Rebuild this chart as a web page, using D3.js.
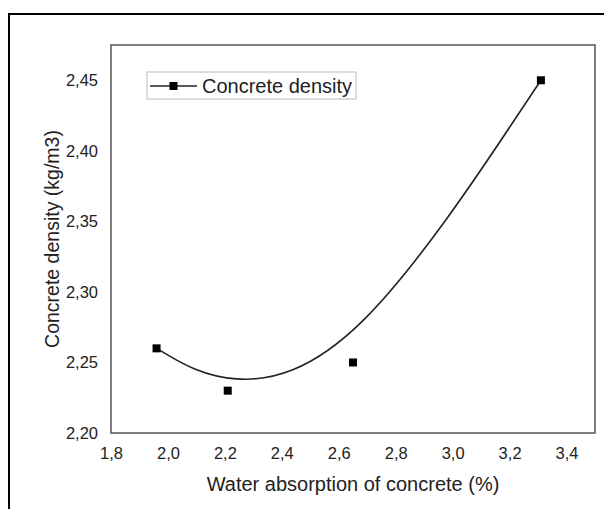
<!DOCTYPE html>
<html>
<head>
<meta charset="utf-8">
<script src="https://cdn.jsdelivr.net/npm/d3@7"></script>
<style>
  body { margin: 0; background: #fff; }
  svg { display: block; font-family: "Liberation Sans", Arial, sans-serif; }
</style>
</head>
<body>
<div id="chart"></div>
<script>
// data
var absorption = [1.96, 2.21, 2.65, 3.31];
var density = [2.26, 2.23, 2.25, 2.45];
var xTicks = [1.8, 2.0, 2.2, 2.4, 2.6, 2.8, 3.0, 3.2, 3.4];
var yTicks = [2.20, 2.25, 2.30, 2.35, 2.40, 2.45];
var seriesName = "Concrete density";

var width = 604,
    height = 509;

var margin = {left: 111, top: 45, right: 9, bottom: 76};

var svg = d3.select("#chart").append("svg")
    .attr("width", width)
    .attr("height", height);

// outer frame, cut by the image edge on right and bottom
svg.append("rect")
    .attr("x", 9).attr("y", 14)
    .attr("width", 700).attr("height", 600)
    .attr("fill", "none")
    .attr("stroke", "#000")
    .attr("stroke-width", 2);

var x = d3.scaleLinear()
    .domain([1.8, 3.5])
    .range([margin.left, width - margin.right]);

var y = d3.scaleLinear()
    .domain([2.20, 2.475])
    .range([height - margin.bottom, margin.top]);

var fmt = function(n, dec) { return d3.format("." + dec + "f")(n).replace(".", ","); };

// axes without tick marks
var xAxis = d3.axisBottom(x).tickValues(xTicks).tickSize(0).tickPadding(14)
    .tickFormat(function(d) { return fmt(d, 1); });
var yAxis = d3.axisLeft(y).tickValues(yTicks).tickSize(0).tickPadding(13)
    .tickFormat(function(d) { return fmt(d, 2); });

var gx = svg.append("g")
    .attr("transform", "translate(0," + (height - margin.bottom) + ")")
    .call(xAxis);
var gy = svg.append("g")
    .attr("transform", "translate(" + margin.left + ",0)")
    .call(yAxis);

[gx, gy].forEach(function(g) {
    g.select(".domain").remove();
    g.selectAll("text")
        .attr("fill", "#222")
        .style("font-size", "16.5px")
        .style("font-family", "'Liberation Sans', Arial, sans-serif");
});

// plot box
svg.append("rect")
    .attr("x", margin.left).attr("y", margin.top)
    .attr("width", width - margin.right - margin.left)
    .attr("height", height - margin.bottom - margin.top)
    .attr("fill", "none")
    .attr("stroke", "#555")
    .attr("stroke-width", 1.5);

// b-spline line through the points
var line = d3.line()
    .x(function(d, i) { return x(absorption[i]); })
    .y(function(d) { return y(d); })
    .curve(d3.curveBasis);

svg.append("path")
    .datum(density)
    .attr("d", line)
    .attr("fill", "none")
    .attr("stroke", "#222")
    .attr("stroke-width", 1.6);

var ms = 8;
svg.selectAll("rect.pt")
    .data(density)
    .enter().append("rect")
    .attr("class", "pt")
    .attr("x", function(d, i) { return x(absorption[i]) - ms / 2; })
    .attr("y", function(d) { return y(d) - ms / 2; })
    .attr("width", ms).attr("height", ms)
    .attr("fill", "#000");

// axis titles
svg.append("text")
    .attr("x", (margin.left + width - margin.right) / 2)
    .attr("y", 491)
    .attr("text-anchor", "middle")
    .attr("fill", "#222")
    .style("font-size", "20px")
    .text("Water absorption of concrete (%)");

svg.append("text")
    .attr("transform", "translate(59," + (margin.top + height - margin.bottom) / 2 + ") rotate(-90)")
    .attr("text-anchor", "middle")
    .attr("fill", "#222")
    .style("font-size", "19.5px")
    .text("Concrete density (kg/m3)");

// legend
var lg = svg.append("g").attr("transform", "translate(147,72)");
lg.append("rect")
    .attr("width", 209).attr("height", 27)
    .attr("fill", "#fff")
    .attr("stroke", "#bbb")
    .attr("stroke-width", 1);
lg.append("line")
    .attr("x1", 3).attr("x2", 50)
    .attr("y1", 14).attr("y2", 14)
    .attr("stroke", "#222")
    .attr("stroke-width", 1.6);
lg.append("rect")
    .attr("x", 26.5 - ms / 2).attr("y", 14 - ms / 2)
    .attr("width", ms).attr("height", ms)
    .attr("fill", "#000");
lg.append("text")
    .attr("x", 55).attr("y", 21)
    .attr("fill", "#222")
    .style("font-size", "20px")
    .text(seriesName);
</script>
</body>
</html>
